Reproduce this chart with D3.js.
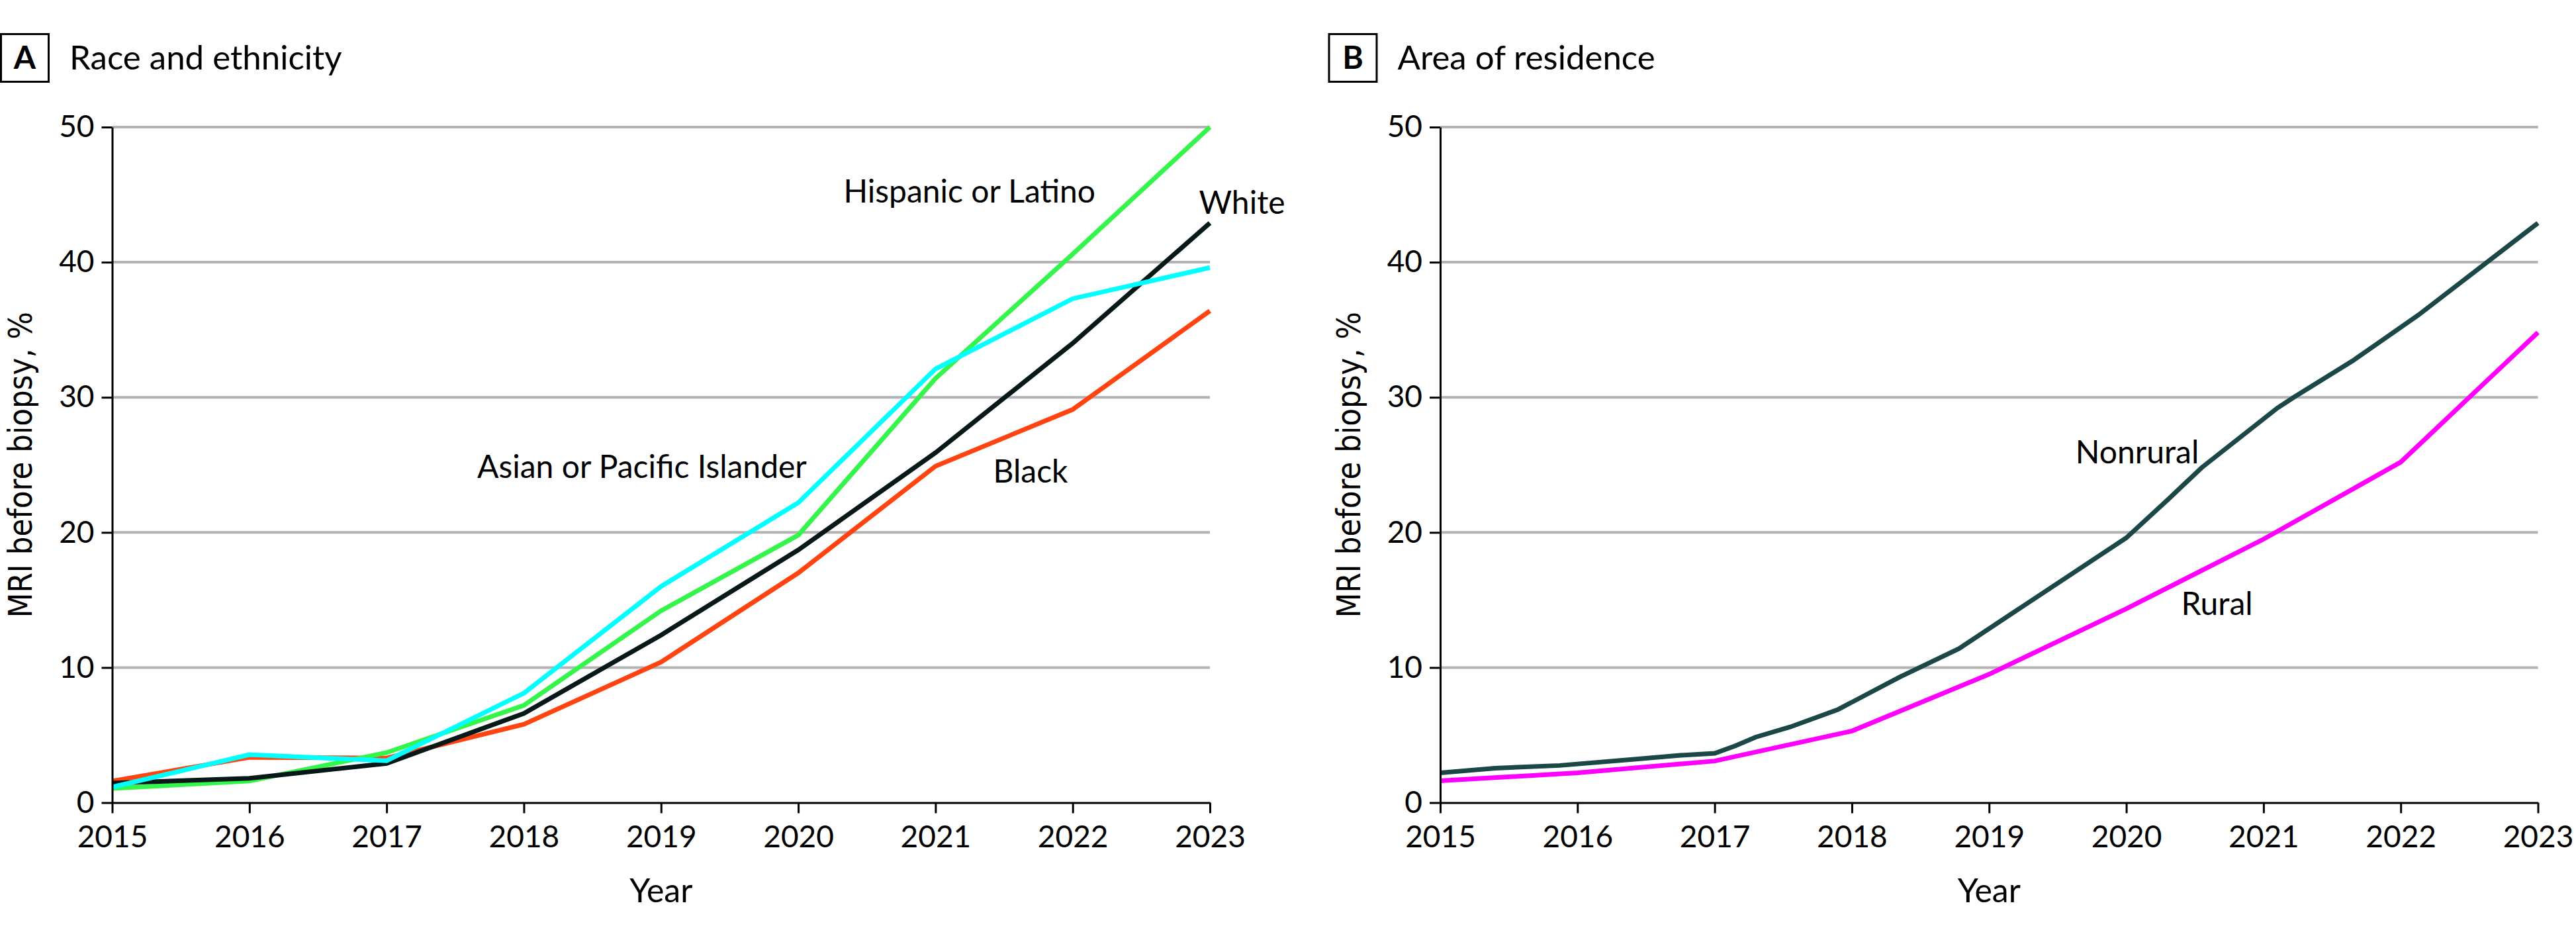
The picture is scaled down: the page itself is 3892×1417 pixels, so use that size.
<!DOCTYPE html>
<html>
<head>
<meta charset="utf-8">
<title>MRI before biopsy, 2015-2023</title>
<script src="https://d3js.org/d3.v7.min.js"></script>
<style>
  body { margin: 0; background: #fff; }
  text { font-family: Lato, sans-serif; fill: #000; }
</style>
</head>
<body>
<div id="chart"></div>
<script>
// ---- data ----
var years = [2015, 2016, 2017, 2018, 2019, 2020, 2021, 2022, 2023];
var yTicks = [0, 10, 20, 30, 40, 50];

// panel A: race and ethnicity
var whiteVals    = [1.45, 1.8, 2.9, 6.6, 12.4, 18.7, 25.9, 34.0, 42.9];
var blackVals    = [1.6, 3.35, 3.3, 5.8, 10.4, 17.0, 24.9, 29.1, 36.4];
var hispanicVals = [1.05, 1.6, 3.7, 7.2, 14.2, 19.8, 31.4, 40.6, 50.0];
var asianVals    = [1.15, 3.55, 3.1, 8.1, 16.0, 22.2, 32.1, 37.3, 39.6];

// panel B: area of residence (nonrural is drawn with extra intermediate points)
var nonruralYears = [2015.0, 2015.4, 2015.87, 2016.4, 2016.75, 2017.0, 2017.15, 2017.3, 2017.55, 2017.9,
                     2018.35, 2018.78, 2020.0, 2020.3, 2020.55, 2021.1, 2021.22, 2021.65, 2022.13, 2023.0];
var nonruralVals  = [2.2, 2.55, 2.75, 3.2, 3.5, 3.65, 4.2, 4.85, 5.6, 6.9,
                     9.3, 11.4, 19.6, 22.4, 24.8, 29.2, 30.0, 32.7, 36.1, 42.9];
var ruralVals     = [1.62, 2.2, 3.08, 5.3, 9.5, 14.35, 19.5, 25.2, 34.8];

var svg = d3.select("#chart").append("svg")
  .attr("width", 3892)
  .attr("height", 1417)
  .style("background", "#fff");

function drawPanel(offsetX, letter, title, series, labels) {
  var g = svg.append("g").attr("transform", "translate(" + offsetX + ",0)");

  var x = d3.scaleLinear().domain([2015, 2023]).range([169.5, 1828]);
  var y = d3.scaleLinear().domain([0, 50]).range([1212.5, 192]);

  // panel letter box + title
  g.append("rect")
    .attr("x", 1.5).attr("y", 51.5).attr("width", 72).attr("height", 72)
    .style("fill", "none").style("stroke", "#000").style("stroke-width", 3);
  g.append("text")
    .attr("x", 37.5).attr("y", 104)
    .style("text-anchor", "middle")
    .style("font-size", "48px")
    .style("font-weight", "bold")
    .text(letter);
  g.append("text")
    .attr("x", 105).attr("y", 105)
    .style("font-size", "51px")
    .text(title);

  // horizontal gridlines
  g.selectAll("line.grid")
    .data(yTicks.filter(function (d) { return d > 0; }))
    .enter().append("line")
    .attr("class", "grid")
    .attr("x1", x(2015)).attr("x2", x(2023))
    .attr("y1", function (d) { return y(d); })
    .attr("y2", function (d) { return y(d); })
    .style("stroke", "#b3b3b3")
    .style("stroke-width", 4);

  // series
  var line = d3.line()
    .x(function (d) { return x(d[0]); })
    .y(function (d) { return y(d[1]); });

  series.forEach(function (s) {
    g.append("path")
      .datum(d3.zip(s.xs, s.vals))
      .attr("d", line)
      .style("fill", "none")
      .style("stroke", s.color)
      .style("stroke-width", 7);
  });

  // axes
  var xAxis = g.append("g")
    .attr("transform", "translate(0," + y(0) + ")")
    .call(d3.axisBottom(x).tickValues(years).tickFormat(d3.format("d"))
      .tickSize(16).tickSizeOuter(0).tickPadding(19));
  var yAxis = g.append("g")
    .attr("transform", "translate(" + x(2015) + ",0)")
    .call(d3.axisLeft(y).tickValues(yTicks)
      .tickSize(16).tickSizeOuter(0).tickPadding(11));

  [xAxis, yAxis].forEach(function (ax) {
    ax.select("path.domain").style("stroke", "#000").style("stroke-width", 3);
    ax.selectAll(".tick line").style("stroke", "#000").style("stroke-width", 3);
    ax.selectAll(".tick text")
      .style("font-family", "Lato, sans-serif")
      .style("font-size", "46px")
      .style("fill", "#000");
  });

  // axis titles
  g.append("text")
    .attr("x", (x(2015) + x(2023)) / 2).attr("y", 1363)
    .style("text-anchor", "middle")
    .style("font-size", "50px")
    .text("Year");
  g.append("text")
    .attr("transform", "translate(48," + ((y(0) + y(50)) / 2) + ") rotate(-90)")
    .attr("textLength", 462)
    .attr("lengthAdjust", "spacingAndGlyphs")
    .style("text-anchor", "middle")
    .style("font-family", "'DejaVu Sans', sans-serif")
    .style("font-size", "50px")
    .text("MRI before biopsy, %");

  // direct labels
  labels.forEach(function (l) {
    g.append("text")
      .attr("x", x(l.at[0])).attr("y", y(l.at[1]))
      .style("font-size", "48px")
      .text(l.name);
  });
}

drawPanel(0, "A", "Race and ethnicity", [
  { xs: years, vals: blackVals,    color: "#ff4411" },
  { xs: years, vals: hispanicVals, color: "#33f54a" },
  { xs: years, vals: whiteVals,    color: "#061818" },
  { xs: years, vals: asianVals,    color: "#00ffff" }
], [
  { name: "Hispanic or Latino",        at: [2020.33, 44.4] },
  { name: "White",                     at: [2022.92, 43.6] },
  { name: "Asian or Pacific Islander", at: [2017.66, 24.05] },
  { name: "Black",                     at: [2021.42, 23.7] }
]);

drawPanel(2006.5, "B", "Area of residence", [
  { xs: years,         vals: ruralVals,    color: "#ff00ff" },
  { xs: nonruralYears, vals: nonruralVals, color: "#1b4747" }
], [
  { name: "Nonrural", at: [2019.63, 25.1] },
  { name: "Rural",    at: [2020.40, 13.9] }
]);
</script>
</body>
</html>
